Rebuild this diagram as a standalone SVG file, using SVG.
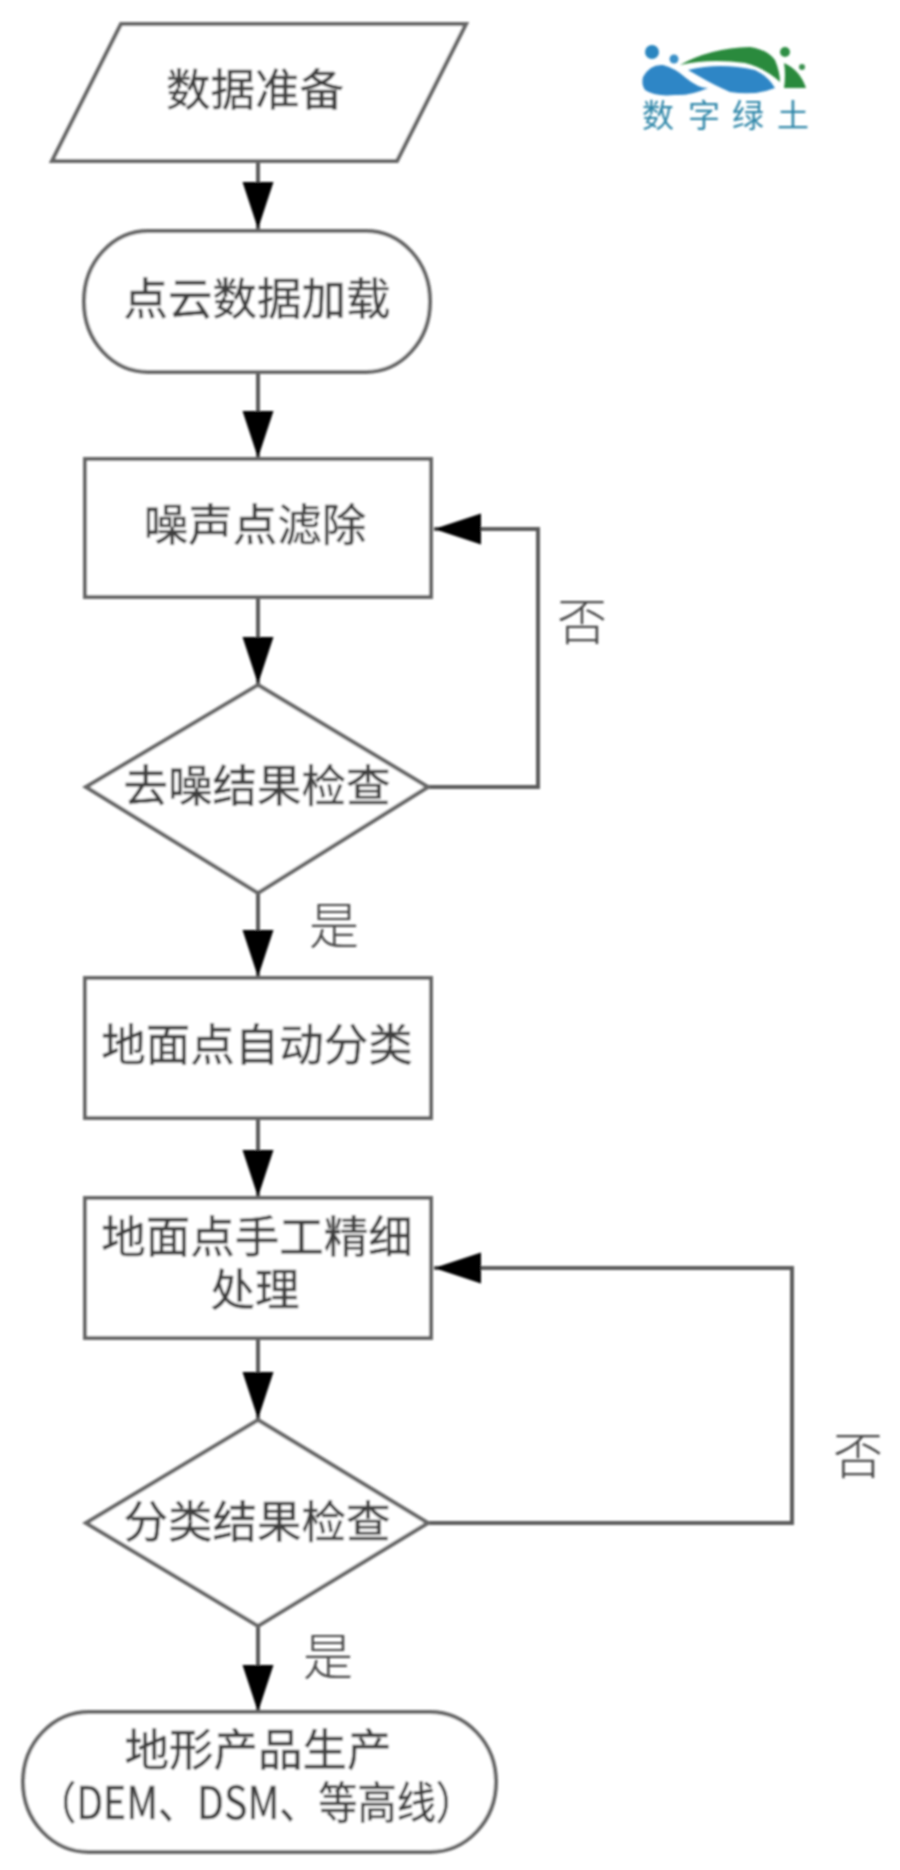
<svg xmlns="http://www.w3.org/2000/svg" width="900" height="1870" viewBox="0 0 900 1870">
<style>
.n{fill:#fff;stroke:#666;stroke-width:4}
.c{fill:none;stroke:#5a5a5a;stroke-width:4}
text{font-family:"Noto Sans CJK SC","Noto Sans",sans-serif;text-anchor:middle}
.t{font-size:44.5px;fill:#3c3c3c;stroke:#555;stroke-width:.5}
.l{font-size:50px;fill:#444;font-weight:300}
.logo{font-size:32px;fill:#2f86a8;text-anchor:start}
</style>
<defs>
<marker id="a" markerUnits="userSpaceOnUse" markerWidth="50" markerHeight="34" refX="47" refY="16" orient="auto"><path d="M0 .5L47 16L0 31.5z" fill="#000"/></marker>
<filter id="b" x="-5%" y="-5%" width="110%" height="110%"><feGaussianBlur stdDeviation="1.1"/></filter>
</defs>
<rect width="900" height="1870" fill="#fff"/>
<g filter="url(#b)">
<g id="connectors">
<path class="c" d="M258 161V229" marker-end="url(#a)"/>
<path class="c" d="M258 372V458" marker-end="url(#a)"/>
<path class="c" d="M258 597V684" marker-end="url(#a)"/>
<path class="c" d="M258 893V977" marker-end="url(#a)"/>
<path class="c" d="M258 1118V1197" marker-end="url(#a)"/>
<path class="c" d="M258 1338V1419" marker-end="url(#a)"/>
<path class="c" d="M258 1626V1712" marker-end="url(#a)"/>
<path class="c" d="M428 787H538V529H434" marker-end="url(#a)"/>
<path class="c" d="M428 1523H792V1268H434" marker-end="url(#a)"/>
</g>
<g id="n1"><path class="n" d="M121 24H466L397 161H52z"/><text class="t" x="255" y="106">数据准备</text></g>
<g id="n2"><rect class="n" x="84" y="231" width="346" height="141" rx="64" ry="70"/><text class="t" x="257" y="315">点云数据加载</text></g>
<g id="n3"><rect class="n" x="85" y="459" width="346" height="138"/><text class="t" x="255" y="541">噪声点滤除</text></g>
<g id="n4"><path class="n" d="M258 685L428 787L258 893L86 787z"/><text class="t" x="257" y="802">去噪结果检查</text></g>
<g id="n5"><rect class="n" x="85" y="978" width="346" height="140"/><text class="t" x="257" y="1061">地面点自动分类</text></g>
<g id="n6"><rect class="n" x="85" y="1198" width="346" height="140"/><text class="t" x="257" y="1253">地面点手工精细</text><text class="t" x="255" y="1306">处理</text></g>
<g id="n7"><path class="n" d="M258 1420L428 1523L258 1626L86 1523z"/><text class="t" x="257" y="1538">分类结果检查</text></g>
<g id="n8"><rect class="n" x="23" y="1712" width="473" height="140" rx="66" ry="70"/><text class="t" x="258" y="1766">地形产品生产</text><text class="t" x="256" y="1819" textLength="438" lengthAdjust="spacingAndGlyphs">（DEM、DSM、等高线）</text></g>
<g id="labels">
<text class="l" x="582" y="640">否</text>
<text class="l" x="334" y="944">是</text>
<text class="l" x="858" y="1474">否</text>
<text class="l" x="328" y="1675">是</text>
</g>
<g id="logo">
<circle cx="652" cy="52" r="7" fill="#2a86c0"/><circle cx="674" cy="59" r="4.5" fill="#3a90c8"/>
<circle cx="785" cy="52" r="5" fill="#2f8f45"/><circle cx="802" cy="67" r="3" fill="#3a9050"/>
<path fill="#2f86c6" d="M643 77Q650 64 663 65Q675 68 686 78Q698 88 708 88Q690 96 675 95Q655 97 645 90Q641 84 643 77z"/>
<path fill="#2f86c6" d="M688 70Q720 62 755 70Q768 76 775 88Q755 96 730 92Q712 84 702 78z"/>
<path fill="#2a8a3e" d="M680 65Q710 48 750 47Q768 50 775 60Q780 72 780 82Q765 68 745 63Q710 58 680 65z"/>
<path fill="#2a8a3e" d="M784 63Q800 70 806 88H784Q786 75 784 63z"/>
<text class="logo" x="642 688 732 777" y="127">数字绿土</text>
</g>
</g>
</svg>
